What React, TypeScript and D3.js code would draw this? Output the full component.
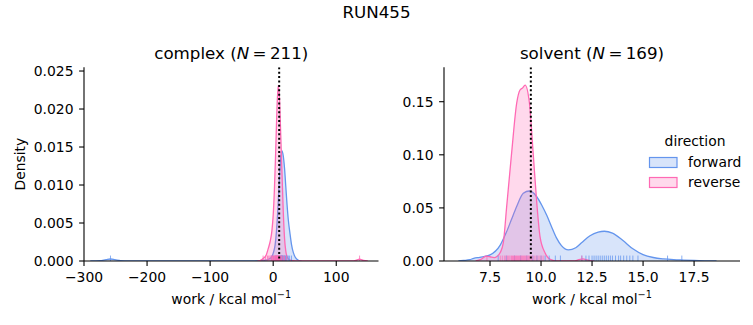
import React from "react";
import * as d3 from "d3";

// ---------- data ----------
const suptitle = "RUN455";
const directions = ["forward", "reverse"];
const colors: Record<string, string> = { forward: "#6495ED", reverse: "#FF69B4" };

// complex phase: KDE curves [work, density]
const complexForwardKde: [number, number][] = [
  [-290, 0], [-275, 0.00005], [-265, 0.00018], [-258, 0.00026], [-251, 0.00018], [-242, 0.00005], [-230, 0],
  [-30, 0], [-12, 0.0001], [-6, 0.0003], [-2, 0.0006], [1, 0.0013], [3, 0.0021], [5, 0.0037], [7, 0.0062],
  [9, 0.0095], [11, 0.0125], [13, 0.0143], [14, 0.0145], [16, 0.0138], [18, 0.0122], [20, 0.0098],
  [22, 0.0074], [24, 0.0054], [26.5, 0.0037], [29, 0.0022], [32, 0.0011], [35, 0.0005], [40, 0.0001], [45, 0],
];
const complexReverseKde: [number, number][] = [
  [-25, 0], [-20, 0.0001], [-15, 0.0004], [-11, 0.0008], [-8, 0.0016], [-5, 0.0025], [-2, 0.004],
  [0, 0.006], [2, 0.0095], [4, 0.0145], [6, 0.02], [8, 0.0231], [10, 0.0215], [12, 0.0165], [14, 0.0115],
  [16, 0.0065], [18, 0.003], [20, 0.0013], [23, 0.0004], [27, 0.0001], [35, 0],
  [125, 0], [131, 0.00008], [137, 0.00025], [143, 0.00008], [150, 0],
];
const complexForwardWork = [-258, -3, 1, 4, 6, 8, 9, 10, 11, 12, 12.5, 13, 13.5, 14, 14.5, 15, 16, 17, 18, 19, 20, 21, 22, 24, 26, 29];
const complexReverseWork = [-16, -12, -9, -7, -5, -3, -2, -1, 0, 1, 2, 3, 3.5, 4, 4.5, 5, 5.5, 6, 6.5, 7, 7.5, 8, 8.5, 9, 9.5, 10, 11, 12, 13, 14, 16, 18, 21, 137];

// solvent phase
const solventForwardKde: [number, number][] = [
  [5.95, 0], [6.2, 0.0005], [6.5, 0.0012], [6.7, 0.0025], [7.0, 0.0035], [7.5, 0.0058], [8.0, 0.015],
  [8.3, 0.027], [8.55, 0.039], [8.8, 0.051], [9.13, 0.0637], [9.43, 0.0659], [9.79, 0.0605], [10.05, 0.052],
  [10.28, 0.043], [10.5, 0.033], [10.75, 0.022], [11.0, 0.0145], [11.34, 0.0104], [11.7, 0.0125],
  [12.0, 0.0175], [12.4, 0.0238], [12.8, 0.0272], [13.1, 0.028], [13.5, 0.0262], [14.0, 0.0195],
  [14.5, 0.0115], [15.0, 0.006], [15.5, 0.0033], [16.0, 0.002], [16.5, 0.0013], [17.0, 0.0009],
  [17.5, 0.0005], [18.0, 0.0002], [18.6, 0],
];
const solventReverseKde: [number, number][] = [
  [6.8, 0], [7.05, 0.0015], [7.3, 0.0045], [7.5, 0.004], [7.7, 0.0032], [7.85, 0.0045], [8.0, 0.008],
  [8.15, 0.017], [8.32, 0.052], [8.56, 0.102], [8.81, 0.149], [8.97, 0.161], [9.1, 0.163], [9.22, 0.1657],
  [9.43, 0.149], [9.62, 0.1], [9.79, 0.055], [9.95, 0.023], [10.2, 0.0075], [10.45, 0.0015], [10.8, 0],
  [11.6, 0], [11.85, 0.0012], [12.05, 0.002], [12.3, 0.0008], [12.6, 0],
];
const solventForwardWork = [7.9, 8.3, 8.7, 9.0, 9.3, 9.6, 9.8, 10.0, 10.2, 10.4, 10.7, 10.95, 12.0, 12.2, 12.35, 12.5, 12.6, 12.7, 12.8, 12.9, 13.0, 13.1, 13.2, 13.3, 13.4, 13.5, 13.65, 13.8, 13.9, 14.05, 14.2, 14.35, 14.5, 14.75, 16.2, 16.9];
const solventReverseWork = [7.35, 8.0, 8.1, 8.2, 8.28, 8.35, 8.42, 8.48, 8.55, 8.6, 8.65, 8.7, 8.75, 8.8, 8.85, 8.9, 8.95, 9.0, 9.05, 9.1, 9.15, 9.2, 9.25, 9.3, 9.35, 9.4, 9.45, 9.52, 9.6, 9.7, 9.8, 9.9, 10.0, 10.1, 12.0];

const complexTicksX = [-300, -200, -100, 0, 100];
const complexTicksY = [0, 0.005, 0.01, 0.015, 0.02, 0.025];
const solventTicksX = [7.5, 10, 12.5, 15, 17.5];
const solventTicksY = [0, 0.05, 0.1, 0.15];
const refLine = 9.5;

// ---------- drawing ----------
const FONT = "DejaVu Sans, sans-serif";
const minus = (s: string) => s.replace(/-/g, "\u2212");

type PanelProps = {
  title: string; n: number; x0: number; x1: number; y0: number; y1: number;
  xDomain: [number, number]; yDomain: [number, number];
  xTicks: number[]; yTicks: number[]; xFmt: string; yFmt: string;
  kdes: Record<string, [number, number][]>; rugs: Record<string, number[]>; showYLabel: boolean;
};

function Panel(p: PanelProps) {
  const x = d3.scaleLinear().domain(p.xDomain).range([p.x0, p.x1]);
  const y = d3.scaleLinear().domain(p.yDomain).range([p.y1, p.y0]);
  const area = d3.area<[number, number]>().x(d => x(d[0])).y0(y(0)).y1(d => y(d[1])).curve(d3.curveMonotoneX);
  const line = d3.line<[number, number]>().x(d => x(d[0])).y(d => y(d[1])).curve(d3.curveMonotoneX);
  const xf = d3.format(p.xFmt), yf = d3.format(p.yFmt);
  const rugH = (p.y1 - p.y0) * 0.028;
  const cx = (p.x0 + p.x1) / 2;
  return (
    <g>
      <defs>
        <clipPath id={"clip" + p.title}>
          <rect x={p.x0} y={p.y0} width={p.x1 - p.x0} height={p.y1 - p.y0} />
        </clipPath>
      </defs>
      <g clipPath={`url(#clip${p.title})`}>
        {directions.map(dir => (
          <g key={dir}>
            <path d={area(p.kdes[dir]) || ""} fill={colors[dir]} fillOpacity={0.25} stroke="none" />
            <path d={line(p.kdes[dir]) || ""} fill="none" stroke={colors[dir]} strokeWidth={1.3} />
          </g>
        ))}
        {directions.map(dir => (
          <g key={"r" + dir}>
            {p.rugs[dir].map((v, i) => (
              <line key={i} x1={x(v)} x2={x(v)} y1={p.y1} y2={p.y1 - rugH} stroke={colors[dir]} strokeOpacity={0.75} strokeWidth={1} />
            ))}
          </g>
        ))}
        <line x1={x(refLine)} x2={x(refLine)} y1={p.y0} y2={p.y1} stroke="black" strokeWidth={2} strokeDasharray="2 2.4" />
      </g>
      {/* spines */}
      <line x1={p.x0} x2={p.x0} y1={p.y0} y2={p.y1} stroke="black" strokeWidth={1.1} />
      <line x1={p.x0} x2={p.x1} y1={p.y1} y2={p.y1} stroke="black" strokeWidth={1.1} />
      {p.xTicks.map(t => (
        <g key={"xt" + t}>
          <line x1={x(t)} x2={x(t)} y1={p.y1} y2={p.y1 + 4.9} stroke="black" strokeWidth={1.1} />
          <text x={x(t)} y={p.y1 + 21} textAnchor="middle" fontSize={13.9} fontFamily={FONT} fill="#000">{minus(xf(t))}</text>
        </g>
      ))}
      {p.yTicks.map(t => (
        <g key={"yt" + t}>
          <line x1={p.x0 - 4.9} x2={p.x0} y1={y(t)} y2={y(t)} stroke="black" strokeWidth={1.1} />
          <text x={p.x0 - 10.5} y={y(t) + 5} textAnchor="end" fontSize={13.9} fontFamily={FONT} fill="#000">{yf(t)}</text>
        </g>
      ))}
      <text x={cx} y={p.y1 + 43} textAnchor="middle" fontSize={13.9} fontFamily={FONT} fill="#000">
        work / kcal mol<tspan dy={-6} fontSize={9.7}>−1</tspan>
      </text>
      <text x={cx} y={p.y0 - 8.5} textAnchor="middle" fontSize={16.7} fontFamily={FONT} fill="#000">
        {p.title} (<tspan fontStyle="italic">N</tspan>{"\u2009=\u2009"}{p.n})
      </text>
      {p.showYLabel && (
        <text transform={`translate(25,${(p.y0 + p.y1) / 2}) rotate(-90)`} textAnchor="middle" fontSize={13.9} fontFamily={FONT} fill="#000">Density</text>
      )}
    </g>
  );
}

export default function App() {
  return (
    <svg width={753} height={325} style={{ position: "absolute", left: 0, top: 0, background: "#fff" }}>
      <rect width={753} height={325} fill="#fff" />
      <text x={376.5} y={18.3} textAnchor="middle" fontSize={16.7} fontFamily={FONT} fill="#000">{suptitle}</text>
      <Panel title="complex" n={211} x0={84} x1={378.5} y0={67.3} y1={261}
        xDomain={[-300, 167]} yDomain={[0, 0.02549]} xTicks={complexTicksX} yTicks={complexTicksY}
        xFmt="d" yFmt=".3f"
        kdes={{ forward: complexForwardKde, reverse: complexReverseKde }}
        rugs={{ forward: complexForwardWork, reverse: complexReverseWork }} showYLabel={true} />
      <Panel title="solvent" n={169} x0={444} x1={740} y0={67.3} y1={261}
        xDomain={[5.245, 19.75]} yDomain={[0, 0.1824]} xTicks={solventTicksX} yTicks={solventTicksY}
        xFmt=".1f" yFmt=".2f"
        kdes={{ forward: solventForwardKde, reverse: solventReverseKde }}
        rugs={{ forward: solventForwardWork, reverse: solventReverseWork }} showYLabel={false} />
      {/* legend */}
      <text x={695} y={146} textAnchor="middle" fontSize={13.9} fontFamily={FONT} fill="#000">direction</text>
      {directions.map((dir, i) => (
        <g key={dir}>
          <rect x={649.5} y={157.5 + i * 20} width={27.5} height={10} fill={colors[dir]} fillOpacity={0.25} stroke={colors[dir]} strokeWidth={1.2} />
          <text x={688} y={167 + i * 20} fontSize={13.9} fontFamily={FONT} fill="#000">{dir}</text>
        </g>
      ))}
    </svg>
  );
}
